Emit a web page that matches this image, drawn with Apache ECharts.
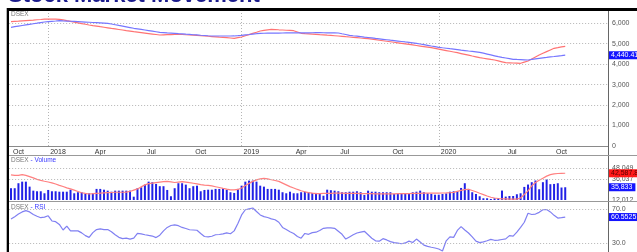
<!DOCTYPE html>
<html>
<head>
<meta charset="utf-8">
<title>Stock Market Movement</title>
<script src="https://cdn.jsdelivr.net/npm/echarts@6/dist/echarts.min.js"></script>
<style>
  html, body { margin: 0; padding: 0; background: #fff; }
  #chart { width: 637px; height: 252px; }
</style>
</head>
<body>
<div id="chart"></div>
<script>
// weekly categories: 150 trading weeks plus empty weeks up to the right axis
const weekCount = 161;
const weeks = [];
for (let i = 0; i < weekCount; i++) weeks.push('W' + (i + 1));

// axis labels on the time axis (week index -> text)
const tickWeeks = [0, 10, 22, 36, 49, 62, 76, 88, 102, 115, 133, 146];
const tickNames = ['Oct', '2018', 'Apr', 'Jul', 'Oct', '2019', 'Apr', 'Jul', 'Oct', '2020', 'Jul', 'Oct'];
const yearWeeks = [10, 62, 115];

// DSEX index (blue) and its average (red)
const dsexLine = [
  5804, 5833, 5862, 5891, 5920, 5949, 5978, 6006, 6035, 6064,
  6080, 6096, 6111, 6127, 6118, 6110, 6100, 6090, 6080, 6070,
  6060, 6050, 6040, 6030, 6020, 6010, 6000, 5965, 5930, 5895,
  5861, 5826, 5791, 5756, 5728, 5700, 5672, 5644, 5616, 5588,
  5560, 5546, 5532, 5519, 5505, 5491, 5479, 5466, 5454, 5441,
  5429, 5416, 5404, 5391, 5379, 5379, 5379, 5378, 5378, 5379,
  5380, 5396, 5413, 5433, 5452, 5472, 5491, 5511, 5513, 5516,
  5518, 5520, 5523, 5525, 5528, 5530, 5531, 5532, 5534, 5535,
  5536, 5537, 5539, 5540, 5537, 5534, 5532, 5529, 5526, 5488,
  5451, 5413, 5391, 5370, 5348, 5326, 5305, 5283, 5261, 5240,
  5218, 5196, 5174, 5153, 5131, 5109, 5087, 5066, 5044, 5022,
  4989, 4957, 4924, 4891, 4859, 4826, 4803, 4781, 4758, 4736,
  4713, 4690, 4668, 4645, 4624, 4603, 4582, 4539, 4496, 4453,
  4410, 4367, 4335, 4304, 4272, 4240, 4231, 4223, 4214, 4205,
  4233, 4261, 4289, 4311, 4332, 4354, 4375, 4397, 4418, 4440.41
];
const dsexAvg = [
  6078, 6092, 6105, 6119, 6132, 6146, 6159, 6173, 6186, 6200,
  6202, 6205, 6208, 6195, 6165, 6127, 6092, 6057, 6022, 5987,
  5952, 5917, 5889, 5862, 5834, 5807, 5780, 5752, 5725, 5698,
  5671, 5643, 5616, 5589, 5566, 5543, 5520, 5497, 5474, 5451,
  5428, 5435, 5442, 5448, 5455, 5462, 5451, 5439, 5428, 5417,
  5405, 5394, 5380, 5366, 5352, 5338, 5323, 5309, 5295, 5281,
  5267, 5298, 5330, 5389, 5447, 5506, 5564, 5623, 5651, 5678,
  5706, 5695, 5683, 5672, 5661, 5649, 5638, 5575, 5511, 5497,
  5484, 5470, 5457, 5443, 5430, 5417, 5405, 5392, 5379, 5363,
  5346, 5330, 5313, 5297, 5280, 5264, 5247, 5222, 5197, 5172,
  5147, 5122, 5097, 5072, 5047, 5022, 4995, 4968, 4941, 4914,
  4888, 4861, 4834, 4807, 4772, 4737, 4702, 4667, 4632, 4597,
  4562, 4521, 4481, 4440, 4399, 4359, 4318, 4290, 4262, 4233,
  4205, 4161, 4117, 4073, 4066, 4058, 4051, 4044, 4100, 4156,
  4254, 4352, 4450, 4532, 4614, 4696, 4778, 4810, 4843, 4875
];

// weekly volume and its moving average
const volume = [
  25500, 25500, 31200, 33000, 33000, 27300, 22700, 22000, 22000, 19700,
  23500, 22000, 22000, 21500, 21500, 21500, 23800, 19700, 20900, 20900,
  19200, 19700, 19700, 24700, 24700, 23800, 22700, 21500, 22700, 22700,
  22700, 22700, 22700, 15800, 25500, 26600, 29600, 33000, 32400, 30400,
  27800, 27800, 23500, 16300, 25500, 31200, 31200, 29600, 25500, 27800,
  28400, 22000, 23500, 23800, 23800, 24700, 24700, 25500, 23800, 20900,
  20100, 24700, 28400, 33000, 34200, 34200, 33000, 28400, 27300, 24700,
  24700, 24700, 23800, 20900, 19700, 21500, 19700, 19700, 20900, 21500,
  20900, 20100, 20100, 18900, 16900, 23800, 23200, 22700, 22000, 20900,
  20900, 21500, 21500, 22000, 20900, 17800, 22700, 21500, 21500, 20900,
  20900, 20900, 20900, 18900, 19700, 19700, 19700, 19700, 20900, 21500,
  22700, 20900, 19700, 18900, 18100, 18100, 18900, 19500, 21500, 22000,
  22000, 25800, 31200, 24700, 20900, 18900, 16300, 14000, 14000, 13200,
  14000, 14300, 22800, 15900, 16600, 16600, 18600, 19700, 27000, 29700,
  32400, 34300, 24300, 32400, 35800, 30100, 30400, 31200, 26300, 26600
];
const volumeAvg = [
  40800, 40100, 40200, 41000, 40200, 38800, 37300, 35600, 34500, 33500,
  32600, 31600, 30300, 28800, 27400, 25900, 24700, 23300, 21800, 20300,
  19500, 18900, 19200, 19700, 19900, 20200, 20500, 20600, 20900, 20900,
  20900, 21000, 21800, 23300, 24700, 27000, 29300, 30700, 31300, 31900,
  32500, 33000, 33400, 32700, 32000, 32500, 33000, 32500, 31800, 31200,
  30500, 29700, 29100, 28700, 28100, 27200, 26300, 25300, 24400, 23600,
  23700, 24100, 25800, 28700, 31000, 33300, 35000, 36200, 36800, 36200,
  35200, 34300, 33300, 31300, 29300, 27300, 25800, 24100, 22600, 21400,
  20500, 19900, 19400, 19400, 19500, 19600, 19700, 19800, 19800, 19800,
  19700, 19700, 19600, 19500, 19400, 19300, 19300, 19200, 19100, 19000,
  19000, 19000, 19100, 19100, 19200, 19200, 19300, 19400, 19500, 19600,
  19700, 19800, 19800, 19800, 19800, 19900, 20000, 20100, 20300, 20700,
  21900, 23000, 23800, 24300, 22900, 21400, 19700, 18200, 16600, 15200,
  14300, 13700, 13400, 13200, 13000, 12900, 13000, 14300, 18300, 22400,
  28100, 32100, 34700, 37000, 39300, 41100, 41900, 42300, 42500, 42587.8
];
const volumeLastText = '35,833';

// RSI
const rsi = [
  58.2, 61.0, 64.0, 66.5, 68.0, 66.5, 63.5, 61.5, 59.8, 60.4,
  62.0, 56.0, 55.2, 52.0, 45.5, 50.0, 44.5, 44.6, 44.5, 42.2,
  39.0, 37.0, 42.5, 46.0, 46.8, 46.0, 46.0, 43.5, 40.0, 37.0,
  35.5, 36.0, 35.0, 36.0, 41.5, 41.0, 40.0, 39.2, 38.5, 36.7,
  39.5, 44.5, 48.5, 50.7, 51.5, 50.5, 48.5, 47.3, 45.8, 45.5,
  45.2, 41.5, 38.0, 37.5, 38.3, 40.0, 40.3, 41.0, 42.2, 41.2,
  44.5, 53.0, 63.0, 69.0, 70.0, 71.0, 67.0, 63.0, 61.0, 60.0,
  58.5, 57.4, 54.5, 48.5, 46.0, 43.5, 41.5, 38.0, 36.0, 41.5,
  40.5, 42.5, 43.0, 45.0, 47.5, 47.9, 47.9, 47.5, 44.0, 40.5,
  35.0, 37.5, 40.0, 42.0, 43.0, 44.0, 40.0, 36.0, 33.0, 32.6,
  35.5, 34.0, 32.0, 30.8, 30.2, 29.6, 30.5, 32.6, 31.0, 35.0,
  31.5, 28.0, 26.5, 25.5, 24.6, 23.5, 21.2, 33.0, 37.5, 37.0,
  45.0, 49.5, 45.5, 42.0, 37.5, 32.6, 30.9, 31.8, 33.0, 34.6,
  33.6, 33.8, 34.5, 35.2, 39.0, 38.5, 43.0, 48.5, 54.5, 65.0,
  63.5, 64.0, 66.0, 69.0, 69.2, 66.5, 62.5, 59.4, 59.8, 60.5525
];

const volumeLabels = [12012, 36037, 48049];
const rsiLabels = [30, 70];

const font = 'Liberation Sans, Arial, sans-serif';
const dotted = { color: '#b5b5b5', type: [1, 2], width: 1 };
const lastOf = arr => arr[arr.length - 1];

// value box at the right axis
function tag(value, text, bg, fg) {
  return {
    yAxis: value,
    lineStyle: { color: 'rgba(0,0,0,0)', width: 1 },
    label: {
      show: true, position: 'end', distance: 1, formatter: text,
      backgroundColor: bg, color: fg, fontSize: 7, fontFamily: font,
      padding: [1, 3, 0, 2]
    }
  };
}
function gridLine(value) {
  return { yAxis: value, lineStyle: dotted, label: { show: false } };
}

function hiddenX(idx) {
  return {
    gridIndex: idx, type: 'category', data: weeks, boundaryGap: true,
    axisLine: { show: false }, axisTick: { show: false },
    axisLabel: { show: false }, splitLine: { show: false }
  };
}

const chart = echarts.init(document.getElementById('chart'));

chart.setOption({
  animation: false,
  backgroundColor: '#fff',
  grid: [
    { left: 9.14, right: 29, top: 10, height: 136 },
    { left: 9.14, right: 29, top: 155, height: 45 },
    { left: 9.14, right: 29, top: 202, bottom: 0 }
  ],
  xAxis: [
    {
      gridIndex: 0, type: 'category', data: weeks, boundaryGap: true, offset: 2,
      axisLine: { lineStyle: { color: '#8a8a8a', width: 1 } },
      axisTick: {
        alignWithLabel: true, length: 3,
        interval: i => tickWeeks.indexOf(i) >= 0,
        lineStyle: { color: '#555' }
      },
      axisLabel: {
        interval: i => tickWeeks.indexOf(i) >= 0,
        formatter: (v, i) => tickNames[tickWeeks.indexOf(i)],
        align: 'left', padding: [0, 0, 0, 2], margin: 1,
        fontSize: 7, color: '#333', fontFamily: font
      },
      splitLine: {
        show: true, alignWithLabel: true,
        interval: i => yearWeeks.indexOf(i) >= 0,
        lineStyle: dotted
      }
    },
    hiddenX(1),
    hiddenX(2)
  ],
  yAxis: [
    {
      gridIndex: 0, type: 'value', position: 'right',
      min: 0, max: 6650, interval: 1000,
      axisLine: { show: false }, axisTick: { show: false },
      splitLine: { lineStyle: dotted },
      axisLabel: {
        showMaxLabel: false, margin: 4, fontSize: 7, color: '#555', fontFamily: font,
        formatter: v => v.toLocaleString('en-US')
      }
    },
    {
      gridIndex: 1, type: 'value', position: 'right',
      min: 12012.25, max: 63492, interval: 12012.25, startValue: 12012.25,
      axisLine: { show: false }, axisTick: { show: false },
      splitLine: { show: false },
      axisLabel: {
        showMaxLabel: false, margin: 4, fontSize: 7, color: '#555', fontFamily: font,
        formatter: v => volumeLabels.indexOf(Math.round(v)) >= 0 ? Math.round(v).toLocaleString('en-US') : ''
      }
    },
    {
      gridIndex: 2, type: 'value', position: 'right',
      min: 20, max: 78, interval: 10,
      axisLine: { show: false }, axisTick: { show: false },
      splitLine: { show: false },
      axisLabel: {
        showMinLabel: false, showMaxLabel: false, margin: 4,
        fontSize: 7, color: '#555', fontFamily: font,
        formatter: v => rsiLabels.indexOf(v) >= 0 ? v.toFixed(1) : ''
      }
    }
  ],
  series: [
    {
      name: 'DSEX avg', type: 'line', xAxisIndex: 0, yAxisIndex: 0,
      data: dsexAvg, symbol: 'none',
      lineStyle: { color: '#ff7373', width: 1.2 }
    },
    {
      name: 'DSEX', type: 'line', xAxisIndex: 0, yAxisIndex: 0,
      data: dsexLine, symbol: 'none',
      lineStyle: { color: '#7676ff', width: 1.2 },
      markLine: {
        silent: true, symbol: ['none', 'none'],
        data: [tag(lastOf(dsexLine), '4,440.41', '#1414ff', '#fff')]
      }
    },
    {
      name: 'Volume', type: 'bar', xAxisIndex: 1, yAxisIndex: 1,
      data: volume, barWidth: 2,
      itemStyle: { color: '#2121e6' },
      markLine: {
        silent: true, symbol: ['none', 'none'],
        data: [
          gridLine(36037), gridLine(48049),
          tag(lastOf(volume), volumeLastText, '#1414ff', '#fff')
        ]
      }
    },
    {
      name: 'Volume avg', type: 'line', xAxisIndex: 1, yAxisIndex: 1,
      data: volumeAvg, symbol: 'none',
      lineStyle: { color: '#ff8080', width: 1.2 },
      markLine: {
        silent: true, symbol: ['none', 'none'],
        data: [tag(lastOf(volumeAvg), '42,587.8', '#ff1a1a', '#5a0000')]
      }
    },
    {
      name: 'RSI', type: 'line', xAxisIndex: 2, yAxisIndex: 2,
      data: rsi, symbol: 'none',
      lineStyle: { color: '#8080f2', width: 1.2 },
      markLine: {
        silent: true, symbol: ['none', 'none'],
        data: [
          gridLine(30), gridLine(70),
          tag(lastOf(rsi), '60.5525', '#1414ff', '#fff')
        ]
      }
    }
  ],
  graphic: [
    // title, cut off at the top of the picture
    {
      type: 'text', left: 8, top: -15, z: 100,
      style: { text: 'Stock Market Movement', font: 'bold 22px ' + font, fill: '#1b1b8c' }
    },
    // frame
    { type: 'rect', shape: { x: 7, y: 8, width: 630, height: 3 }, style: { fill: '#000' }, z: 100 },
    { type: 'rect', shape: { x: 6.7, y: 8, width: 2.3, height: 244 }, style: { fill: '#000' }, z: 100 },
    { type: 'line', shape: { x1: 608.5, y1: 11, x2: 608.5, y2: 252 }, style: { stroke: '#666', lineWidth: 1 }, z: 100 },
    { type: 'line', shape: { x1: 9, y1: 155.5, x2: 637, y2: 155.5 }, style: { stroke: '#999', lineWidth: 1 }, z: 100 },
    { type: 'line', shape: { x1: 9, y1: 201.5, x2: 637, y2: 201.5 }, style: { stroke: '#999', lineWidth: 1 }, z: 100 },
    // panel captions
    {
      type: 'text', x: 11, y: 14, z: 100,
      style: { text: 'DSEX', font: '6.5px ' + font, fill: '#777', verticalAlign: 'middle' }
    },
    {
      type: 'text', x: 11, y: 160, z: 100,
      style: {
        text: '{g|DSEX}{b| - Volume}', font: '6.5px ' + font, verticalAlign: 'middle',
        rich: { g: { fill: '#777' }, b: { fill: '#3a3aff' } }
      }
    },
    {
      type: 'text', x: 11, y: 207, z: 100,
      style: {
        text: '{g|DSEX}{b| - RSI}', font: '6.5px ' + font, verticalAlign: 'middle',
        rich: { g: { fill: '#777' }, b: { fill: '#3a3aff' } }
      }
    }
  ]
});
</script>
</body>
</html>
